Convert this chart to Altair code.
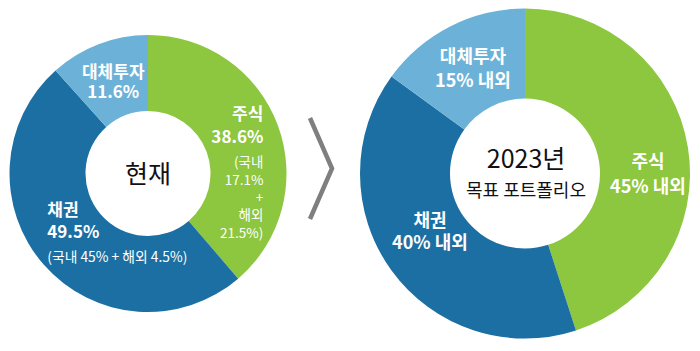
import altair as alt
import pandas as pd

# ---- data ----
categories = ["주식", "채권", "대체투자"]
current_share = [38.6, 49.5, 11.6]
target_share = [45, 40, 15]
current_main = ["주식\n38.6%", "채권\n49.5%", "대체투자\n11.6%"]
current_note = ["(국내\n17.1%\n+\n해외\n21.5%)", "(국내 45% + 해외 4.5%)", ""]
target_main = ["주식\n45% 내외", "채권\n40% 내외", "대체투자\n15% 내외"]
center_current = ["현재"]
center_target = ["2023년", "목표 포트폴리오"]
palette = ["#8dc63f", "#1b6fa3", "#6cb2d8"]

FONT = "Noto Sans CJK KR"

cur = pd.DataFrame({"cat": categories, "idx": [0, 1, 2], "share": current_share,
                    "main": current_main, "note": current_note})
tgt = pd.DataFrame({"cat": categories, "idx": [0, 1, 2], "share": target_share,
                    "main": target_main, "note": ["", "", ""]})

color_scale = alt.Scale(domain=categories, range=palette)


def donut(df, cx, cy, r_in, r_out):
    return alt.Chart(df).mark_arc(innerRadius=r_in, outerRadius=r_out).encode(
        theta=alt.Theta("share:Q", stack="normalize"),
        order=alt.Order("idx:Q", sort="ascending"),
        color=alt.Color("cat:N", scale=color_scale, legend=None),
        x=alt.value(cx),
        y=alt.value(cy),
    )


def label(df, cx, cy, cat, field, radius, align, dx, dy, size, weight, lh):
    # place the label at the middle angle of its slice
    return (
        alt.Chart(df)
        .transform_joinaggregate(total="sum(share)")
        .transform_window(cum="sum(share)", sort=[alt.SortField("idx", order="ascending")],
                          frame=[None, 0])
        .transform_calculate(mid="(datum.cum - datum.share / 2) / datum.total")
        .transform_filter(alt.datum.cat == cat)
        .mark_text(radius=radius, align=align, baseline="middle", dx=dx, dy=dy,
                   fontSize=size, fontWeight=weight, lineHeight=lh, lineBreak="\n",
                   color="white", font=FONT)
        .encode(
            theta=alt.Theta("mid:Q", scale=alt.Scale(domain=[0, 1]), stack=None),
            text=alt.Text(f"{field}:N"),
            x=alt.value(cx),
            y=alt.value(cy),
        )
    )


def center_text(txt, cx, cy, size):
    return alt.Chart(pd.DataFrame({"t": [txt]})).mark_text(
        align="center", baseline="middle", fontSize=size, font=FONT, color="#111111"
    ).encode(text="t:N", x=alt.value(cx), y=alt.value(cy))


LCX, LCY = 148, 173.5
RCX, RCY = 525, 173.5

layers = [
    donut(cur, LCX, LCY, 62.5, 138.5),
    donut(tgt, RCX, RCY, 75, 165),
    # left labels
    label(cur, LCX, LCY, "대체투자", "main", 100, "center", 1, -7, 17, "bold", 20),
    label(cur, LCX, LCY, "주식", "main", 123, "right", 0, -16, 17, "bold", 23.5),
    label(cur, LCX, LCY, "주식", "note", 123, "right", 0, 32, 13.5, "normal", 17.8),
    label(cur, LCX, LCY, "채권", "main", 110, "left", -18, -35, 17, "bold", 22),
    label(cur, LCX, LCY, "채권", "note", 110, "left", -18, 12, 13.8, "normal", 17),
    # right labels
    label(tgt, RCX, RCY, "대체투자", "main", 119, "center", 2, -9.5, 18, "bold", 24),
    label(tgt, RCX, RCY, "주식", "main", 122, "center", 2.5, 8.5, 18, "bold", 25),
    label(tgt, RCX, RCY, "채권", "main", 115, "center", -2, -19.5, 18, "bold", 22.5),
    # centers
    center_text(center_current[0], LCX, 175, 25),
    center_text(center_target[0], RCX + 1, 160, 25),
    center_text(center_target[1], RCX + 1, 192, 18),
    # chevron
    alt.Chart(pd.DataFrame({"k": [0]})).mark_point(
        shape="M -0.218 -1 L 0.218 0 L -0.218 1", filled=False, size=10201,
        strokeWidth=4.5, color="#7f7f7f", opacity=1, strokeJoin="miter", strokeCap="butt",
    ).encode(x=alt.value(321), y=alt.value(168.5)),
]

chart = alt.layer(*layers).properties(
    width=700, height=351, padding=0, autosize=alt.AutoSizeParams(type="none"),
    background="white",
).configure_view(stroke=None)

chart.save("out.html", embed_options={"renderer": "svg", "actions": False})
